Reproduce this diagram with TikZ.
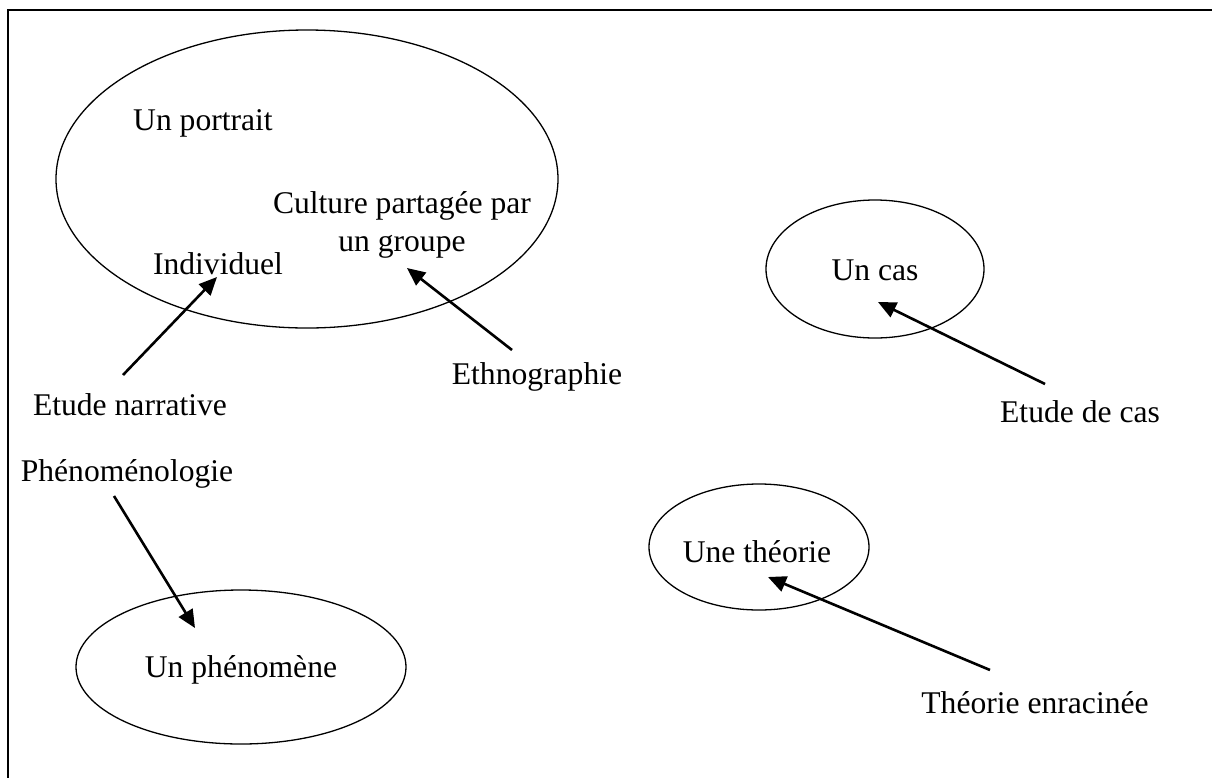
\documentclass[tikz,border=0pt]{standalone}
\usepackage{fontspec}
\setmainfont{Liberation Serif}
\usetikzlibrary{arrows.meta,shapes.geometric}
\begin{document}
\begin{tikzpicture}[x=0.5pt,y=-0.5pt,
  lbl/.style={font=\fontsize{15.8pt}{19pt}\selectfont, inner sep=0pt, align=center},
  oval/.style={draw, ellipse, line width=0.65pt, inner sep=0pt},
  arr/.style={line width=1.3pt, -{Triangle[length=9pt,width=8pt]}},
  frame/.style={line width=1.3pt}]
\useasboundingbox (0,0) rectangle (1212,778);
% frame (top and left)
\coordinate (ftr) at (1212,10);
\coordinate (ftl) at (8,10);
\coordinate (fbl) at (8,778);
\draw[frame] (ftr) -- (ftl) -- (fbl);
% ellipses (sizes in pt = half of pixels)
\node[oval, minimum width=251pt, minimum height=149pt] (big) at (307,179) {};
\node[oval, minimum width=109pt, minimum height=69pt] (cas) at (875,269) {};
\node[oval, minimum width=165pt, minimum height=77pt] (phen) at (241,667) {};
\node[oval, minimum width=110pt, minimum height=63pt] (theo) at (759,547) {};
% texts
\node[lbl] (portrait) at (203,123) {Un portrait};
\node[lbl] (culture) at (402,225) {Culture partagée par\\un groupe};
\node[lbl] (indiv) at (218,264) {Individuel};
\node[lbl] (narr) at (130,405) {Etude narrative};
\node[lbl] (ethno) at (537,377) {Ethnographie};
\node[lbl] (uncas) at (875,270) {Un cas};
\node[lbl] (etcas) at (1080,412) {Etude de cas};
\node[lbl] (pheno) at (127,474) {Phénoménologie};
\node[lbl] (unphen) at (241,670) {Un phénomène};
\node[lbl] (unetheo) at (757,552) {Une théorie};
\node[lbl] (enrac) at (1035,703) {Théorie enracinée};
% arrow ends
\coordinate (s1) at (123,375); \coordinate (t1) at (217,277);
\coordinate (s2) at (512,350); \coordinate (t2) at (407,268);
\coordinate (s3) at (1045,384); \coordinate (t3) at (878,302);
\coordinate (s4) at (114,496); \coordinate (t4) at (195,628);
\coordinate (s5) at (990,670); \coordinate (t5) at (768,577);
\draw[arr] (s1) -- (t1);
\draw[arr] (s2) -- (t2);
\draw[arr] (s3) -- (t3);
\draw[arr] (s4) -- (t4);
\draw[arr] (s5) -- (t5);
\end{tikzpicture}
\end{document}
